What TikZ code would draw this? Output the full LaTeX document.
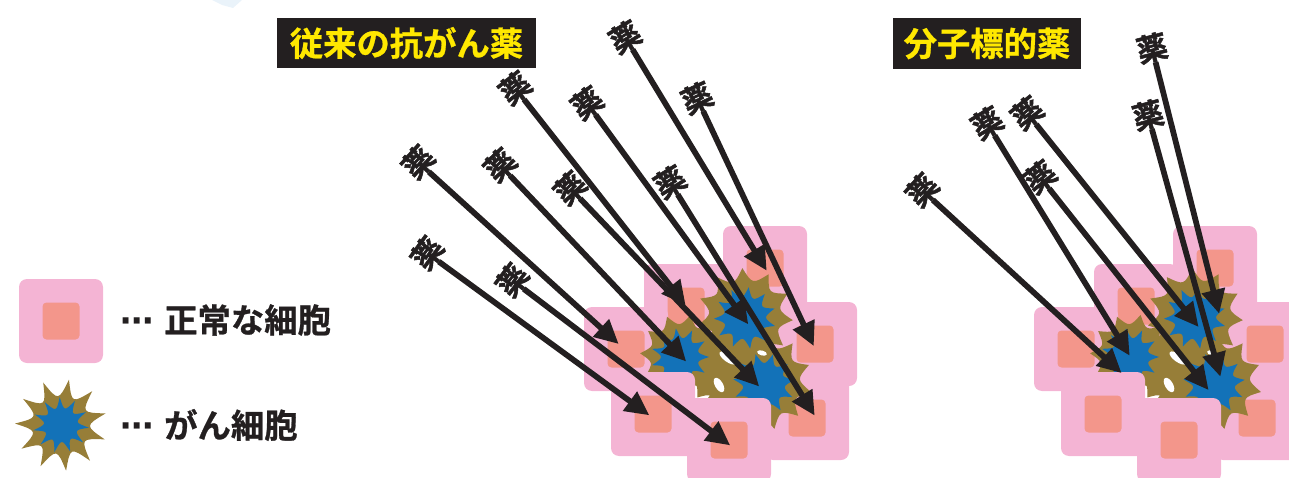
\documentclass[tikz,border=0pt]{standalone}
\usepackage{fontspec}
\newfontfamily\jp{Noto Sans CJK JP}[BoldFont={Noto Sans CJK JP Bold}]
\newfontfamily\jpheavy{Noto Sans CJK JP Bold}[FakeBold=1.6]
\newfontfamily\jpbold{Noto Sans CJK JP Bold}[FakeBold=0.8]
\newfontfamily\dv{DejaVu Sans}
\usetikzlibrary{arrows.meta}

\definecolor{cellpink}{HTML}{F4B4D4}
\definecolor{nucleus}{HTML}{F3968B}
\definecolor{tumourrim}{HTML}{977E38}
\definecolor{tumourcore}{HTML}{1372B8}
\definecolor{inkdark}{HTML}{231F20}
\definecolor{titleyellow}{HTML}{FFE800}
\definecolor{haze}{HTML}{EAF3FA}

\tikzset{
  cellouter/.style={fill=cellpink, rounded corners=6pt, minimum size=63pt, inner sep=0pt, draw=none},
  cellinner/.style={fill=nucleus, rounded corners=3pt, minimum size=27.75pt, inner sep=0pt, draw=none},
  titlebox/.style={fill=inkdark, text=titleyellow, inner sep=0pt, font=\jpbold\fontsize{25}{25}\selectfont},
  drug/.style={text=inkdark, inner sep=0pt, font=\jpheavy\fontsize{23}{23}\selectfont},
  drugarrow/.style={draw=inkdark, line width=4.3pt, -{Triangle[length=18pt, width=17pt]}},
  legendtext/.style={anchor=west, text=inkdark, inner sep=0pt, font=\jpbold\fontsize{25}{25}\selectfont},
}

% normal cell: pink body with a salmon nucleus
\newcommand\normalcell[3]{%
  \node[cellouter] (#1) at (#2,#3) {};
  \node[cellinner] (#1n) at (#1) {};
}

% cancer cell outline: 11-point burst with concave sides
% #1,#2 centre, #3 rotation, #4 tip radius, #5 valley radius, #6 colour
\newcommand\burst[6]{%
  \begin{scope}[shift={(#1,#2)}]
    \pgfmathsetmacro\ctrlr{(#5-0.24*#4)/0.75}
    \fill[#6] (#3:#4)
      \foreach \k in {1,...,11} {
        .. controls ({#3+\k*32.7273-16.3636}:\ctrlr) and ({#3+\k*32.7273-16.3636}:\ctrlr) .. ({#3+\k*32.7273}:#4)
      } -- cycle;
  \end{scope}
}

% a tumour surrounded by normal cells
\newcommand\tissue[1]{%
  \normalcell{#1A}{765}{268}
  \normalcell{#1B}{686}{306}
  \normalcell{#1C}{626}{349}
  \normalcell{#1D}{815}{344}
  \normalcell{#1G}{807}{418}
  % tumour cells
  \burst{745}{316}{5}{48}{36}{tumourrim}
  \burst{682}{356}{20}{42}{32}{tumourrim}
  \burst{764}{382}{12}{48}{36}{tumourrim}
  \burst{722}{366}{30}{40}{32}{tumourrim}
  \burst{735}{392}{0}{30}{24}{tumourrim}
  \burst{745}{318}{15}{31}{21}{tumourcore}
  \burst{680}{357}{0}{29}{19}{tumourcore}
  \burst{764}{384}{25}{31}{21}{tumourcore}
  \fill[white, rotate around={-35:(728,358)}] (728,358) ellipse [x radius=10, y radius=4];
  \fill[white, rotate around={-60:(719,385)}] (719,385) ellipse [x radius=8, y radius=4];
  \fill[white, rotate around={-15:(762,353)}] (762,353) ellipse [x radius=5, y radius=2.5];
  % cells in front of the tumour
  \normalcell{#1E}{653}{414}
  \normalcell{#1F}{729}{440}
}

\begin{document}
\begin{tikzpicture}[x=0.75pt, y=-0.75pt]
  \useasboundingbox (0,0) rectangle (1289,478);
  \fill[haze] (212,0) -- (242,0) -- (233,8) -- (222,5) -- cycle;

  % titles
  \node[titlebox, minimum width=194.25pt, minimum height=37.5pt] (conv) at (406.5,43) {従来の抗がん薬};
  \node[titlebox, minimum width=141pt, minimum height=38.25pt] (targ) at (987,43.5) {分子標的薬};

  % legend
  \node[cellouter] (legcell) at (61,321) {};
  \node[cellinner] (legcelln) at (legcell) {};
  \burst{61}{425}{-80}{46}{29}{tumourrim}
  \burst{61}{425}{-60}{28}{17}{tumourcore}
  \coordinate (legstar) at (61,425);
  \node[legendtext] (legnormal) at (120,320) {{\dv\bfseries ⋯}\hspace{8pt}正常な細胞};
  \node[legendtext] (legcancer) at (120,425) {{\dv\bfseries ⋯}\hspace{8pt}がん細胞};

  % tissues
  \tissue{l}
  \begin{scope}[shift={(450,0)}]
    \tissue{r}
  \end{scope}

  % drugs
  \foreach \n/\lx/\ly/\r/\tx/\ty in {
     1/625/37/31.2/766.7/270.7,
     2/697/98/25.2/813.8/346.1,
     3/515/88/38.2/685.6/305.1,
     4/587/103/36.1/748.3/324.3,
     5/418/162/47.8/618.7/344,
     6/500/165/43.5/686.2/361.5,
     7/570/188/43.6/759.2/386.5,
     8/670/182/31.8/814.7/415.6,
     9/427/253/53.9/649.3/415.3,
    10/512/280/52.8/730.2/445.4,
    11/1152/48/14.2/1219.2/313.7,
    12/1148/115/15.5/1220.4/376.7,
    13/987/123/31.5/1129.7/355.7,
    14/1027/113/38.7/1198.6/327,
    15/1040/177/38.4/1208.6/390.1,
    16/922/190/47.5/1121.6/373.1} {
    \node[drug, rotate=\r] (d\n) at (\lx,\ly) {薬};
    \coordinate (t\n) at (\tx,\ty);
    \draw[drugarrow] (d\n) -- (t\n);
  }
\end{tikzpicture}
\end{document}
